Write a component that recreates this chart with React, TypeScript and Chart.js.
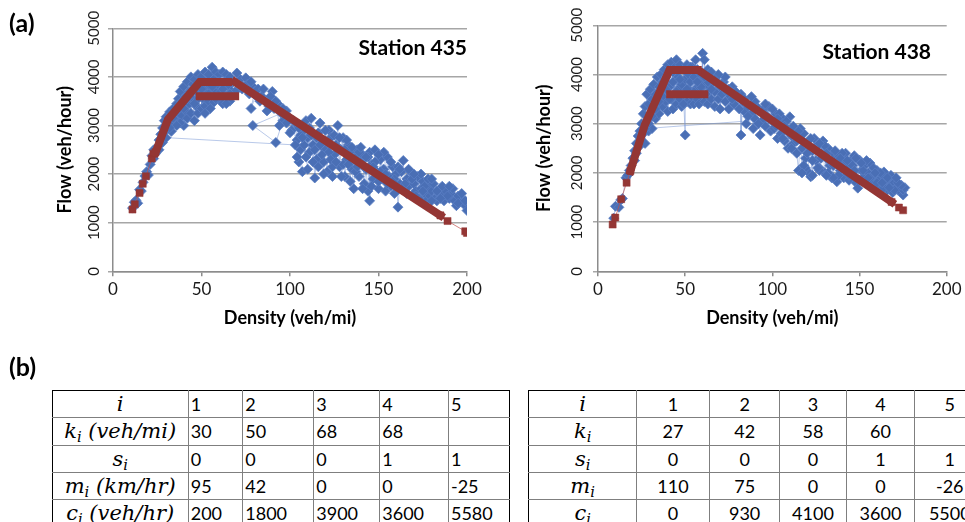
import React, { useEffect, useRef } from 'react';
import { Chart, registerables } from 'chart.js';
Chart.register(...registerables);

const FONT = 'Lato';
const MATH_FONT = '"DejaVu Serif", serif';

// ---------- Axis ranges / labels ----------
const xAxisTitle = 'Density (veh/mi)';
const yAxisTitle = 'Flow (veh/hour)';
const stationNames = ['Station 435', 'Station 438'];

// ---------- Station 435 data ----------
const blue435: [number, number][] = [
  [11,1300],[12,1420],[13,1460],[14,1400],[15,1680],[16,1650],[17,1830],[18,1960],[19,2050],[20,1980],
  [21,2200],[22,2380],[23,2500],[23,2320],[24,2420],[25,2560],[26,2700],[26,2500],[27,2820],[28,2650],
  [28,2950],[29,3100],[30,2900],[30,3180],[31,3000],[32,3280],[33,3050],[33,2880],[34,3350],[35,3150],
  [36,3450],[36,3250],[37,3550],[37,3050],[38,3350],[38,3700],[39,3200],[39,3500],[40,3800],[40,3000],
  [41,3600],[41,3300],[42,3900],[42,3150],[43,3700],[43,3450],[44,4000],[44,3250],[45,3850],[45,3550],
  [46,3100],[46,3950],[47,3400],[47,3700],[48,4050],[48,3250],[49,3600],[49,3850],[50,4000],[50,3350],
  [51,3750],[51,3550],[52,4100],[52,3400],[53,3900],[53,3650],[54,4050],[54,3500],[55,3800],[55,3350],
  [56,4200],[56,3600],[57,3950],[57,3480],[58,4100],[58,3700],[59,3850],[60,3550],[60,4050],[61,3700],
  [62,4100],[62,3450],[63,3900],[64,3600],[64,4050],[65,3800],[66,3500],[66,4000],[67,3700],[68,3900],
  [70,4080],[72,3950],[73,3750],[75,3980],[76,3850],[77,3650],[79,3800],[80,3700],[78,3350],[82,3750],
  [84,3600],[86,3500],[88,3400],[90,3700],[91,3350],[93,3450],[95,3250],[79,3000],[92,2650],[96,3100],
  [98,3300],[100,3150],[101,2900],[103,3050],[104,2700],[106,2500],[107,2050],[105,2250],[108,2900],[109,3100],
  [110,2750],[111,2450],[112,3150],[113,2600],[114,1920],[115,2300],[116,2850],[117,3050],[118,2700],[119,2250],
  [120,2500],[121,2050],[122,2900],[123,2750],[124,1950],[125,2400],[126,2600],[127,3000],[128,2150],[129,2500],
  [130,2750],[131,1950],[132,2300],[133,2600],[134,2450],[135,2100],[136,1700],[137,2350],[138,2500],[139,1950],
  [140,2250],[141,2400],[142,1800],[143,2100],[144,1650],[145,2450],[145,1450],[146,2200],[147,1900],[148,2500],
  [149,2050],[150,1700],[151,2300],[152,1900],[153,2100],[154,1650],[155,2350],[156,1950],[157,1750],[158,2150],
  [159,1600],[160,2000],[161,1320],[162,1800],[163,2050],[164,2280],[165,1650],[166,1900],[167,1750],[168,2050],
  [169,1550],[170,1800],[171,1650],[172,1950],[173,1500],[174,1700],[175,1850],[176,1600],[177,1450],[178,1750],
  [179,1550],[180,1650],[181,1800],[182,1500],[183,1450],[184,1600],[185,1700],[186,1550],[187,1450],[188,1650],
  [190,1500],[191,1600],[193,1450],[195,1550],[198,1450],[199,1350],[200,1250],
  [197,1600],[194,1350],[192,1700],[189,1550],[186,1750],[183,1650],[180,1450],[178,1900],[176,1750],[174,2000],
  [171,1550],[169,1900],[167,2100],[165,1800],[163,1700],[161,2150],[159,1900],[157,2250],[155,1800],[153,2450],
  [151,2050],[150,1850],[148,2250],[146,1750],[144,2350],[142,2150],[141,1700],[139,2450],[137,2050],[135,2550],
  [134,1850],[132,2700],[130,2200],[129,1950],[127,2550],[125,2800],[124,2150],[122,2450],[120,2900],[119,2000],
  [117,2600],[115,2750],[113,2250],[111,2950],[110,2100],[108,2600],[106,2800],[104,2350],[102,3100],[100,2850],
  [98,3050],[96,3350],[94,3000],[92,3500],[89,3600],[87,3300],[85,3750],[83,3500],[81,3600],[78,3900],
  [74,3800],[71,3850],[69,3700],[66,3650],[64,3450],[62,3750],[60,3900],[58,3550],[56,3800],[54,3650],
  [52,3250],[50,3750],[48,3550],[46,3450],[44,3700],[42,3550],[40,3350],[38,3050],[36,3000],[34,3150],
  [32,2950],[30,2750],
  [103,2600],[105,2950],[107,2750],[109,2350],[112,2800],[114,2500],[116,2150],[118,2400],[121,2650],[123,2300],
  [126,2250],[128,2750],[131,2500],[133,2200],[136,2300],[138,2150],[140,2550],[143,2350],[147,2150],[150,2400],
  [154,2000],[158,1850],[162,2100],[166,1600],[170,2000],[175,1650],[180,1900],[185,1500],[190,1750],[195,1400],
  [199,1450]
];
const redBand435a: [number, number][] = [[24,2440],[31,3120],[49,3895],[65,3895]];
const redBand435b: [number, number][] = [[49,3600],[69,3600]];
const redBand435c: [number, number][] = [[69,3895],[185,1150]];
const redDots435a: [number, number][] = [[11,1270],[12.3,1380],[15,1610],[16.8,1800],[18.6,1955],[21.9,2320],[22.8,2420],[24,2450]];
const redDots435b: [number, number][] = [[185,1150],[189,1035],[199,823],[200,790]];

// ---------- Station 438 data ----------
const blue438: [number, number][] = [
  [9,1080],[10,1320],[12,1300],[13,1450],[14,1480],[16,1900],[17,1950],[18,2050],[19,2150],[20,2300],
  [21,2450],[21,2250],[22,2600],[22,2400],[23,2750],[24,2550],[24,2850],[25,2650],[25,3000],[26,2800],
  [26,3200],[27,2600],[27,3350],[28,3050],[28,3600],[29,2850],[29,3400],[30,3150],[30,3700],[31,2900],
  [31,3500],[32,3300],[32,3800],[33,3100],[33,3600],[34,3950],[34,3400],[35,3200],[35,3750],[36,3550],
  [36,4000],[37,3350],[37,3850],[38,4100],[38,3650],[39,3450],[39,3950],[40,4200],[40,3250],[41,3750],
  [41,4050],[42,3500],[42,4250],[43,3850],[43,3300],[44,4150],[44,3600],[45,4300],[45,3400],[46,3950],
  [46,3700],[47,3500],[47,4200],[48,3800],[48,3350],[49,4100],[49,3600],[50,2770],[50,3900],[51,3450],
  [51,4200],[52,3700],[52,4000],[53,3400],[53,3850],[54,4150],[54,3550],[55,3950],[55,3400],[56,4300],
  [56,3700],[57,3500],[57,4100],[58,3850],[58,3400],[59,4000],[59,3600],[60,4430],[60,3750],[61,3450],
  [61,4300],[62,3900],[62,3600],[63,4100],[63,3400],[64,3750],[65,4050],[65,3500],[66,3850],[67,3350],
  [67,3650],[68,3950],[69,3500],[70,3750],[70,3300],[71,3600],[72,3850],[73,3450],[74,3650],[75,3300],
  [76,3550],[77,3750],[78,3400],[80,3550],[82,3600],[82,2770],[83,3450],[84,3250],[85,3000],[86,3350],
  [88,3200],[89,2900],[90,3100],[91,3350],[93,2770],[94,3050],[95,3300],[96,2950],[97,3150],[98,3350],
  [99,2850],[100,3050],[101,2900],[102,3200],[103,2700],[104,3000],[105,2800],[106,3100],[107,2650],[108,2900],
  [109,2500],[110,3140],[111,2750],[112,2600],[113,2900],[114,2400],[115,2050],[116,2700],[117,2500],[118,2800],
  [119,2300],[120,2600],[121,2000],[122,1920],[123,2450],[124,2700],[125,2250],[126,2550],[127,2100],[128,2400],
  [129,2650],[130,2000],[131,2300],[132,2500],[133,2150],[134,1900],[135,2400],[136,2250],[137,1820],[138,2350],
  [139,2050],[140,2200],[141,1900],[142,2400],[143,2100],[144,1850],[145,2250],[146,2000],[147,2350],[148,1800],
  [149,1690],[150,2260],[151,2050],[152,1900],[153,2150],[154,1800],[155,2000],[156,2200],[157,1850],[158,1950],
  [159,1750],[160,2050],[161,1850],[162,1700],[163,1950],[164,2020],[165,1800],[166,1650],[167,1850],[168,1750],
  [169,1600],[170,1800],[171,1700],[172,1650],[173,1690],[174,1600],[175,1550],[175,1650],
  [176,1700],[174,1750],[172,1800],[170,1650],[168,1950],[166,1900],[164,1700],[162,2000],[160,1800],[158,2100],
  [156,1900],[154,2250],[152,2050],[150,1850],[148,2300],[146,2150],[144,1950],[142,2250],[140,2400],[138,1950],
  [136,2450],[135,1900],[134,2200],[132,2000],[131,1950],[130,2550],[128,2300],[127,2050],[126,2100],[124,2500],
  [123,1950],[122,2700],[120,2400],[119,2100],[118,2150],[117,2000],[116,2900],[114,2650],[112,2950],[110,2800],
  [108,3050],[106,2700],[104,3200],[102,2950],[100,3300],[98,3100],[96,3400],[94,3250],[92,3000],[90,3450],
  [88,3550],[86,3150],[84,3500],[81,3300],[79,3650],[77,3500],[75,3700],[73,3950],[71,3800],[69,4000],
  [67,3900],[65,3700],[63,3850],[61,3950],[59,3750],[57,3850],[55,3650],[53,4150],[51,3700],[49,3400],
  [47,3900],[45,3650],[43,4050],[41,3500],[39,3700],[37,3550],[35,3450],[33,3300],[31,3150],[29,3000],
  [27,2900],
  [103,3100],[107,2950],[111,2500],[115,2850],[119,2600],[123,2250],[127,2600],[131,2400],[135,2150],[139,2300],
  [143,2250],[147,2050],[151,2200],[155,1900],[159,2000],[163,1800],[167,1700],[171,1900]
];
const redBand438a: [number, number][] = [[18.6,2040],[26.8,2970],[41,4090],[57.2,4090]];
const redBand438b: [number, number][] = [[41.4,3600],[61,3600]];
const redBand438c: [number, number][] = [[60,4030],[168.4,1410]];
const redDots438a: [number, number][] = [[8.4,950],[9.9,1093],[13.3,1465],[16.4,1800],[18.6,2040]];
const redDots438b: [number, number][] = [[168.4,1410],[172.6,1296],[175,1240]];

// ---------- Table data ----------
const tableIndex = ['1', '2', '3', '4', '5'];
const k435 = ['30', '50', '68', '68', ''];
const s435 = ['0', '0', '0', '1', '1'];
const m435 = ['95', '42', '0', '0', '-25'];
const c435 = ['200', '1800', '3900', '3600', '5580'];
const k438 = ['27', '42', '58', '60', ''];
const s438 = ['0', '0', '0', '1', '1'];
const m438 = ['110', '75', '0', '0', '-26'];
const c438 = ['0', '930', '4100', '3600', '5500'];

const BLUE = '#4a6fb5';
const RED = '#943634';

const toPts = (arr: [number, number][]) => arr.map(([x, y]) => ({ x, y }));

const stationPlugin = {
  id: 'stationLabel',
  afterDatasetsDraw(chart: any, _args: any, opts: any) {
    const { ctx, chartArea } = chart;
    ctx.save();
    ctx.font = `bold 21px ${FONT}`;
    ctx.fillStyle = '#000';
    ctx.textAlign = 'right';
    ctx.textBaseline = 'middle';
    ctx.fillText(opts.text, chartArea.right - opts.dx, chartArea.top + opts.dy);
    ctx.restore();
  },
};

type Geo = {
  left: number; width: number; height: number;
  padL: number; padT: number; padR: number; padB: number;
  yW: number; xH: number; yTickPad: number; dx: number; dy: number;
};

function Panel(props: {
  geo: Geo; label: string; blue: [number, number][];
  bands: [number, number][][]; dots: [number, number][][];
}) {
  const ref = useRef<HTMLCanvasElement>(null);
  useEffect(() => {
    const g = props.geo;
    const datasets: any[] = [];
    props.bands.forEach((b) => datasets.push({
      data: toPts(b), showLine: true, borderColor: RED, borderWidth: 8,
      borderCapStyle: 'square', pointRadius: 0, order: 0,
    }));
    props.dots.forEach((d) => datasets.push({
      data: toPts(d), showLine: true, borderColor: 'rgba(192,80,77,0.7)', borderWidth: 1,
      pointStyle: 'rect', pointRadius: 5, backgroundColor: RED, pointBorderColor: RED,
      pointBorderWidth: 0.5, order: 1,
    }));
    datasets.push({
      data: toPts(props.blue), showLine: true, borderColor: 'rgba(120,150,212,0.65)', borderWidth: 0.8,
      pointStyle: 'rectRot', pointRadius: 5, backgroundColor: BLUE, pointBorderColor: '#5a7fc4',
      pointBorderWidth: 0.8, order: 5,
    });
    const chart = new Chart(ref.current as HTMLCanvasElement, {
      type: 'scatter',
      data: { datasets },
      options: {
        responsive: false,
        animation: false,
        layout: { padding: { left: g.padL, top: g.padT, right: g.padR, bottom: g.padB } },
        plugins: {
          legend: { display: false },
          tooltip: { enabled: false },
          stationLabel: { text: props.label, dx: g.dx, dy: g.dy },
        } as any,
        scales: {
          x: {
            type: 'linear', min: 0, max: 200,
            ticks: { stepSize: 50, font: { family: FONT, size: 17 }, color: '#1a1a1a', padding: 3.5,
              callback: (v: any) => String(v) },
            grid: { drawOnChartArea: false, tickLength: 5, color: '#8c8c8c', lineWidth: 1.5 },
            border: { color: '#8c8c8c', width: 1.5 },
            title: { display: true, text: xAxisTitle, font: { family: FONT, size: 18, weight: 'bold' }, color: '#000', padding: 0 },
            afterFit: (s: any) => { s.height = g.xH; },
          },
          y: {
            type: 'linear', min: 0, max: 5000,
            ticks: { stepSize: 1000, minRotation: 90, maxRotation: 90, crossAlign: 'center',
              padding: g.yTickPad, font: { family: FONT, size: 15 }, color: '#1a1a1a',
              callback: (v: any) => String(v) },
            grid: { color: '#a6a6a6', lineWidth: 1.5, tickLength: 5 },
            border: { color: '#8c8c8c', width: 1.5 },
            title: { display: true, text: yAxisTitle, font: { family: FONT, size: 18, weight: 'bold' }, color: '#000', padding: 0 },
            afterFit: (s: any) => { s.width = g.yW; },
          },
        } as any,
      },
      plugins: [stationPlugin],
    });
    return () => chart.destroy();
  }, []);
  const g = props.geo;
  return (
    <canvas ref={ref} width={g.width} height={g.height}
      style={{ position: 'absolute', left: g.left, top: 0, width: g.width, height: g.height }} />
  );
}

const geo435: Geo = { left: 0, width: 490, height: 332, padL: 54.2, padT: 28.3, padR: 23, padB: 3.2,
  yW: 58.8, xH: 57.5, yTickPad: -3.4, dx: 0, dy: 20 };
const geo438: Geo = { left: 490, width: 475, height: 332, padL: 43.2, padT: 25.3, padR: 16.3, padB: 3.2,
  yW: 64.8, xH: 57.5, yTickPad: -2, dx: 15.7, dy: 27 };

const Sub = ({ c }: { c: string }) => (
  <span style={{ fontStyle: 'italic' }}>{c}<sub style={{ fontSize: '0.7em', verticalAlign: '-0.3em', lineHeight: 0 }}>i</sub></span>
);

const INNER = '1px solid #7f7f7f';
const OUTER = '1px solid #000';

function DataTable(props: {
  left: number; widths: number[]; labels: React.ReactNode[]; rows: string[][]; center: boolean;
}) {
  const total = props.widths.reduce((a, b) => a + b, 0);
  return (
    <table style={{ position: 'absolute', left: props.left, top: 390, width: total, borderCollapse: 'collapse',
      tableLayout: 'fixed' }}>
      <colgroup>{props.widths.map((w, i) => <col key={i} style={{ width: w }} />)}</colgroup>
      <tbody>
        {props.rows.map((row, r) => (
          <tr key={r} style={{ height: 27.3 }}>
            <td style={{ borderTop: r === 0 ? OUTER : INNER, borderLeft: OUTER, borderRight: INNER, borderBottom: INNER,
              padding: 0, textAlign: 'center', fontFamily: MATH_FONT, fontSize: 21, lineHeight: '24px', whiteSpace: 'nowrap' }}>
              {props.labels[r]}
            </td>
            {row.map((v, c) => (
              <td key={c} style={{ borderTop: r === 0 ? OUTER : INNER, borderLeft: INNER,
                borderRight: c === row.length - 1 ? OUTER : INNER, borderBottom: INNER,
                padding: props.center ? 0 : '0 0 0 2px', textAlign: props.center ? 'center' : 'left',
                fontFamily: FONT, fontSize: 18, lineHeight: '24px', color: '#000' }}>{v}</td>
            ))}
          </tr>
        ))}
      </tbody>
    </table>
  );
}

export default function App() {
  const labels435 = [
    <span style={{ fontStyle: 'italic' }}>i</span>,
    <span><Sub c="k" /> <i>(veh/mi)</i></span>,
    <Sub c="s" />,
    <span><Sub c="m" /> <i>(km/hr)</i></span>,
    <span><Sub c="c" /> <i>(veh/hr)</i></span>,
  ];
  const labels438 = [
    <span style={{ fontStyle: 'italic' }}>i</span>,
    <Sub c="k" />, <Sub c="s" />, <Sub c="m" />, <Sub c="c" />,
  ];
  return (
    <div style={{ position: 'fixed', left: 0, top: 0, width: 965, height: 522, overflow: 'hidden', background: '#fff' }}>
      <Panel geo={geo435} label={stationNames[0]} blue={blue435}
        bands={[redBand435a, redBand435b, redBand435c]} dots={[redDots435a, redDots435b]} />
      <Panel geo={geo438} label={stationNames[1]} blue={blue438}
        bands={[redBand438a, redBand438b, redBand438c]} dots={[redDots438a, redDots438b]} />
      <div style={{ position: 'absolute', left: 9, top: 7, fontFamily: FONT, fontWeight: 'bold', fontSize: 25 }}>(a)</div>
      <div style={{ position: 'absolute', left: 9, top: 351, fontFamily: FONT, fontWeight: 'bold', fontSize: 25 }}>(b)</div>
      <DataTable left={51.7} widths={[136, 54.6, 71, 66, 68.7, 61]} labels={labels435}
        rows={[tableIndex, k435, s435, m435, c435]} center={false} />
      <DataTable left={528.3} widths={[107.7, 73, 70.3, 66.4, 68.6, 70]} labels={labels438}
        rows={[tableIndex, k438, s438, m438, c438]} center={true} />
    </div>
  );
}
